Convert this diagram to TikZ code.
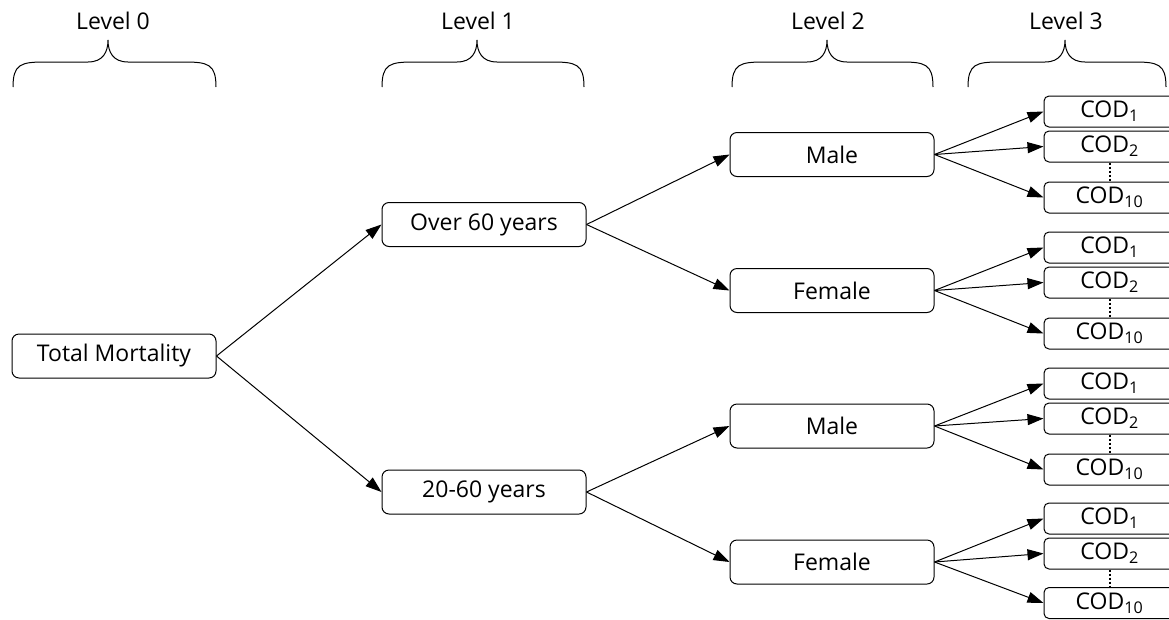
\documentclass[tikz,border=0pt]{standalone}
\usepackage{fontspec}
\setmainfont{Open Sans}
\usepackage{tikz}
\usetikzlibrary{arrows.meta}
\tikzset{>={Triangle[length=16pt,width=11pt]}}
\tikzset{
  box/.style={draw,rounded corners=7pt,line width=1pt,inner sep=0pt,
    minimum width=204pt,minimum height=44pt,font=\fontsize{23}{27}\selectfont},
  codbox/.style={box,rounded corners=5pt,minimum width=131pt,minimum height=31pt},
  level/.style={font=\fontsize{23}{27}\selectfont},
  bracestyle/.style={line width=1pt},
  link/.style={->,line width=1pt},
  gap/.style={line width=2pt,dash pattern=on 2pt off 2pt}
}
% #1 left end, #2 cusp, #3 right end
\newcommand{\levbrace}[3]{%
  \draw[bracestyle] (#1,87) .. controls (#1,64) and (#1+8,62) .. (#1+32,62)
    -- (#2-20,62) .. controls (#2-5,62) and (#2,52) .. (#2,40)
    .. controls (#2,52) and (#2+5,62) .. (#2+20,62)
    -- (#3-32,62) .. controls (#3-8,62) and (#3,64) .. (#3,87);}

\begin{document}
\begin{tikzpicture}[x=1pt,y=-1pt]
      \useasboundingbox (0,0) rectangle (1169,619);
        % levels
        \levbrace{13}{108}{216}
        \levbrace{382}{477}{584}
        \levbrace{732}{827}{933}
        \levbrace{968}{1065}{1166}
        \node[level] at (113,21) (lev0) {Level 0};
        \node[level] at (478,21) (lev1) {Level 1};
        \node[level] at (828,21) (lev2) {Level 2};
        \node[level] at (1066,21) (lev3) {Level 3};

        \node[box] at (114,356) (total) {Total Mortality};
        \node[box] at (484,224.5) (over) {Over 60 years};
        \node[box] at (484,492) (mid) {20-60 years};
        \node[box] at (832,154.5) (maleA) {Male};
        \node[box] at (832,290.5) (femaleA) {Female};
        \node[box] at (832,426) (maleB) {Male};
        \node[box] at (832,562) (femaleB) {Female};

        \node[codbox] at (1109.5,111.5) (codA1) {COD\textsubscript{1}};
        \node[codbox] at (1109.5,146.5) (codA2) {COD\textsubscript{2}};
        \node[codbox] at (1109.5,197.5) (codA10) {COD\textsubscript{10}};
        \node[codbox] at (1109.5,247.5) (codB1) {COD\textsubscript{1}};
        \node[codbox] at (1109.5,282.5) (codB2) {COD\textsubscript{2}};
        \node[codbox] at (1109.5,333.5) (codB10) {COD\textsubscript{10}};
        \node[codbox] at (1109.5,383.5) (codC1) {COD\textsubscript{1}};
        \node[codbox] at (1109.5,418.5) (codC2) {COD\textsubscript{2}};
        \node[codbox] at (1109.5,469.5) (codC10) {COD\textsubscript{10}};
        \node[codbox] at (1109.5,518.5) (codD1) {COD\textsubscript{1}};
        \node[codbox] at (1109.5,553.5) (codD2) {COD\textsubscript{2}};
        \node[codbox] at (1109.5,603) (codD10) {COD\textsubscript{10}};

        \draw[link] (total.east) to (over.west);
        \draw[link] (total.east) to (mid.west);
        \draw[link] (over.east) to (maleA.west);
        \draw[link] (over.east) to (femaleA.west);
        \draw[link] (mid.east) to (maleB.west);
        \draw[link] (mid.east) to (femaleB.west);

        \draw[link] (maleA.east) to (codA1.west);
        \draw[link] (maleA.east) to (codA2.west);
        \draw[link] (maleA.east) to (codA10.west);
        \draw[link] (femaleA.east) to (codB1.west);
        \draw[link] (femaleA.east) to (codB2.west);
        \draw[link] (femaleA.east) to (codB10.west);
        \draw[link] (maleB.east) to (codC1.west);
        \draw[link] (maleB.east) to (codC2.west);
        \draw[link] (maleB.east) to (codC10.west);
        \draw[link] (femaleB.east) to (codD1.west);
        \draw[link] (femaleB.east) to (codD2.west);
        \draw[link] (femaleB.east) to (codD10.west);

        % \draw[dotted] (codA2) -- (codA10);
        \draw[gap] (codA2.south) -- (codA10.north);
        \draw[gap] (codB2.south) -- (codB10.north);
        \draw[gap] (codC2.south) -- (codC10.north);
        \draw[gap] (codD2.south) -- (codD10.north);
      \end{tikzpicture}
\end{document}
